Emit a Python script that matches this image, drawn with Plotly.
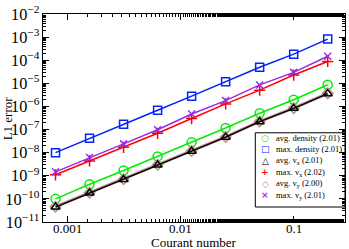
import math
import plotly.graph_objects as go

courant = [0.00078125, 0.0015625, 0.003125, 0.00625, 0.0125, 0.025, 0.05, 0.1, 0.2]

avg_density = [1.0e-10, 4.3e-10, 1.7e-9, 6.9e-9, 2.8e-8, 1.17e-7, 5.1e-7, 1.95e-6, 8.7e-6]
max_density = [1.0e-8, 4.2e-8, 1.7e-7, 6.9e-7, 2.8e-6, 1.17e-5, 5.0e-5, 1.85e-4, 8.3e-4]
avg_vx = [4.4e-11, 1.8e-10, 6.9e-10, 2.9e-9, 1.15e-8, 4.7e-8, 2.2e-7, 8.3e-7, 3.6e-6]
max_vx = [1.1e-9, 4.4e-9, 1.7e-8, 6.9e-8, 3.0e-7, 1.29e-6, 5.1e-6, 2.3e-5, 8.9e-5]
avg_vy = [4.6e-11, 1.85e-10, 7.1e-10, 3.0e-9, 1.18e-8, 4.8e-8, 2.25e-7, 8.5e-7, 3.7e-6]
max_vy = [1.48e-9, 6.2e-9, 2.4e-8, 9.8e-8, 4.7e-7, 1.8e-6, 8.6e-6, 3.0e-5, 1.5e-4]

names = ["avg. density (2.01)", "max. density (2.01)", "avg. v<sub>x</sub> (2.01)",
         "max. v<sub>x</sub> (2.02)", "avg. v<sub>y</sub> (2.00)", "max. v<sub>y</sub> (2.01)"]
legend_glyphs = ["○", "□", "△", "+", "◇", "×"]
x_tick_vals = [0.001, 0.01, 0.1]
x_tick_text = ["0.001", "0.01", "0.1"]
x_title = "Courant number"
y_title = "L1 error"

FONT = "Liberation Serif, Times New Roman, serif"

# (values, color, symbol, marker size, line width)
styles = {
    names[0]: (avg_density, "#00ee00", "circle-open", 9, 1.5),
    names[1]: (max_density, "#0022ff", "square-open", 8, 1.5),
    names[2]: (avg_vx, "#000000", "triangle-up-open", 8, 1.5),
    names[3]: (max_vx, "#ff0000", "cross-thin", 8, 1.5),
    names[4]: (avg_vy, "#bc8f8f", "diamond-open", 8, 3.0),
    names[5]: (max_vy, "#9a2be2", "x-thin", 7, 1.5),
}
draw_order = [names[0], names[1], names[4], names[2], names[3], names[5]]

fig = go.Figure()
for nm in draw_order:
    ys, col, sym, sz, lw = styles[nm]
    fig.add_trace(go.Scatter(
        x=courant, y=ys, name=nm, mode="lines+markers", showlegend=False,
        line=dict(color=col, width=lw),
        marker=dict(symbol=sym, size=sz, color=col, line=dict(color=col, width=1.5)),
    ))

# manual compact legend (box, coloured glyphs, texts)
leg_x0, leg_x1, leg_y0, leg_y1 = 0.703, 1.0, 0.072, 0.429
row_y = [0.405, 0.349, 0.294, 0.239, 0.184, 0.128]
sym_x, txt_x = 0.736, 0.768
fig.add_shape(type="rect", xref="paper", yref="paper", x0=leg_x0, x1=leg_x1, y0=leg_y0, y1=leg_y1,
              line=dict(color="black", width=1), fillcolor="white", layer="below")
for nm, ry, gl in zip(names, row_y, legend_glyphs):
    ys, col, sym, sz, lw = styles[nm]
    fig.add_annotation(x=sym_x, y=ry, xref="paper", yref="paper", text="<b>%s</b>" % gl,
                       showarrow=False, xanchor="center", yanchor="middle", borderpad=0,
                       font=dict(family="DejaVu Sans", size=9, color=col))
    fig.add_annotation(x=txt_x, y=ry, xref="paper", yref="paper", text=nm, showarrow=False,
                       xanchor="left", yanchor="middle", borderpad=0,
                       font=dict(family=FONT, size=8.5, color="black"))

# x tick labels placed right under the axis, as in the reference
for tv, tt in zip(x_tick_vals, x_tick_text):
    fig.add_annotation(x=math.log10(tv), y=0, xref="x", yref="paper", text=tt, showarrow=False,
                       xanchor="center", yanchor="top", borderpad=0, yshift=2,
                       font=dict(family=FONT, size=13, color="black"))

# axis titles
fig.add_annotation(x=0.5, y=-0.085, xref="paper", yref="paper", text=x_title, showarrow=False,
                   xanchor="center", yanchor="top", borderpad=0, yshift=6,
                   font=dict(family=FONT, size=13, color="black"))
fig.add_annotation(x=-0.118, y=0.5, xref="paper", yref="paper", text=y_title, showarrow=False,
                   textangle=-90, xanchor="center", yanchor="middle", borderpad=0,
                   font=dict(family=FONT, size=13, color="black"))

axis_common = dict(
    showline=True, linecolor="black", linewidth=1, mirror="ticks",
    ticks="inside", ticklen=6, tickcolor="black", showgrid=False, zeroline=False,
    minor=dict(ticks="inside", ticklen=3, tickcolor="black", showgrid=False),
)

fig.update_layout(
    xaxis=dict(type="log", range=[-3.218, -0.546], tickvals=x_tick_vals, ticktext=x_tick_text,
               showticklabels=False, **axis_common),
    yaxis=dict(type="log", range=[-11.002, -1.995], dtick=1, exponentformat="power",
               ticklabeloverflow="allow",
               tickfont=dict(family=FONT, size=13, color="black"), **axis_common),
    width=349, height=249,
    margin=dict(l=43, r=3, t=9, b=27),
    paper_bgcolor="white", plot_bgcolor="white",
    font=dict(family=FONT, color="black"),
    showlegend=False,
)

fig.write_html("out.html", config={"displayModeBar": False},
               post_script="document.body.style.margin='0px';")
